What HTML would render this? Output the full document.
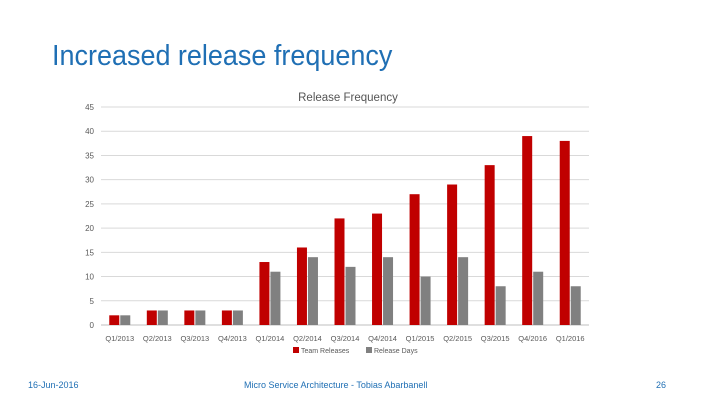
<!DOCTYPE html>
<html><head><meta charset="utf-8"><style>
body{margin:0;width:720px;height:405px;background:#fff;font-family:"Liberation Sans",sans-serif;position:relative;overflow:hidden}
.t{position:absolute}
</style></head><body>
<div class="t" style="left:52px;top:40px;font-size:29px;color:#1f6fb4;transform:scaleX(0.93);transform-origin:0 0;white-space:nowrap">Increased release frequency</div>
<svg class="t" style="left:0;top:0" width="720" height="405">
<text x="348" y="101" text-anchor="middle" font-size="11.5" fill="#555">Release Frequency</text>
<g id="g"></g>
</svg>
<div class="t" style="left:28px;top:380px;font-size:9px;color:#1f6fb4">16-Jun-2016</div>
<div class="t" style="left:244px;top:380px;font-size:9px;color:#1f6fb4">Micro Service Architecture - Tobias Abarbanell</div>
<div class="t" style="left:656px;top:380px;font-size:9px;color:#1f6fb4">26</div>
<script>
const categories=["Q1/2013","Q2/2013","Q3/2013","Q4/2013","Q1/2014","Q2/2014","Q3/2014","Q4/2014","Q1/2015","Q2/2015","Q3/2015","Q4/2016","Q1/2016"];
const teamReleases=[2,3,3,3,13,16,22,23,27,29,33,39,38];
const releaseDays=[2,3,3,3,11,14,12,14,10,14,8,11,8];
const yTicks=[0,5,10,15,20,25,30,35,40,45];
const X0=101,X1=589,Y0=325,Y1=107,YMAX=45;
const cw=(X1-X0)/categories.length;
const y=v=>Y0-(v/YMAX)*(Y0-Y1);
const xc=i=>X0+cw*(i+0.5);
const g=document.getElementById('g');
const NS='http://www.w3.org/2000/svg';
function mk(t,a){const e=document.createElementNS(NS,t);for(const k in a)e.setAttribute(k,a[k]);g.appendChild(e);return e;}
yTicks.forEach(v=>{
 const l=mk('line',{x1:X0,x2:X1,y1:y(v),y2:y(v),stroke:v?'#d9d9d9':'#bfbfbf','stroke-width':1});
 
 
 const t=mk('text',{x:94,y:y(v)+3,'text-anchor':'end','font-size':8,fill:'#595959'});
 t.textContent=v;
 
 
});
categories.forEach((c,i)=>{
 const bw=10;
 const r=mk('rect',{x:xc(i)-bw-0.5,y:y(teamReleases[i]),width:bw,height:Y0-y(teamReleases[i]),fill:'#c00000'});
 
 
 const b=mk('rect',{x:xc(i)+0.5,y:y(releaseDays[i]),width:bw,height:Y0-y(releaseDays[i]),fill:'#808080'});
 
 
 const t=mk('text',{x:xc(i),y:341,'text-anchor':'middle','font-size':7.5,fill:'#595959'});
 t.textContent=c;
 
 
});
const lg=[["Team Releases","#c00000",293],["Release Days","#808080",366]];
lg.forEach(([n,c,x])=>{
 const r=mk('rect',{x:x,y:347,width:6,height:6,fill:c});
 
 
 const t=mk('text',{x:x+8,y:353,'font-size':7,fill:'#595959'});
 t.textContent=n;
 
 
});
</script>
</body></html>
